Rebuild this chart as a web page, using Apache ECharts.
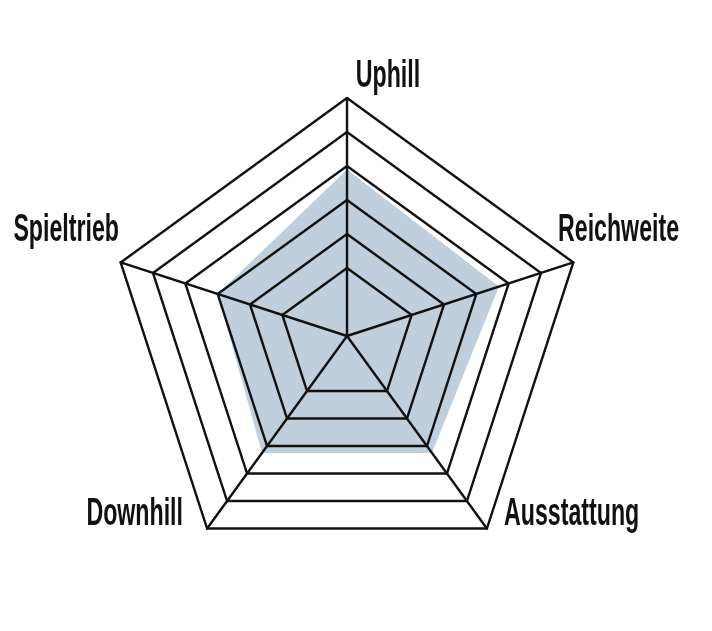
<!DOCTYPE html>
<html>
<head>
<meta charset="utf-8">
<script src="https://cdn.jsdelivr.net/npm/echarts@6/dist/echarts.min.js"></script>
<style>
  html, body { margin: 0; padding: 0; background: #fff; }
  .main { width: 712px; height: 631px; }
</style>
</head>
<body>
<div class="main"></div>
<script>
// ECharts places indicators counter-clockwise starting at the top
var axisNames = ['Uphill', 'Spieltrieb', 'Downhill', 'Ausstattung', 'Reichweite'];
var scores = [4.9, 4.0, 4.25, 4.25, 4.7];
var scaleMax = 7;

var myChart = echarts.init(document.querySelector('.main'));

// the innermost ring is not drawn in the original, colour index 1 is that ring
var ringColors = ['#111', 'rgba(0,0,0,0)', '#111', '#111', '#111', '#111', '#111'];

// squeezed horizontally to get the condensed look of the original lettering
function label(text, x, y, align) {
  return {
    type: 'text',
    x: x,
    y: y,
    scaleX: 0.61,
    style: {
      text: text,
      fill: '#111',
      font: "bold 38px 'Liberation Sans', Arial, sans-serif",
      align: align,
      verticalAlign: 'middle'
    }
  };
}

var option = {
  animation: false,
  radar: {
    z: 5,
    center: [347, 336],
    radius: 238,
    splitNumber: 7,
    shape: 'polygon',
    indicator: axisNames.map(function (n) {
      return { name: n, min: 0, max: scaleMax };
    }),
    axisName: { show: false },
    axisLine: { lineStyle: { color: '#111', width: 2.4 } },
    splitLine: { lineStyle: { color: ringColors, width: 2.4 } },
    splitArea: { show: false }
  },
  graphic: [
    label('Uphill', 388, 77, 'center'),
    label('Reichweite', 558, 231, 'left'),
    label('Spieltrieb', 119, 231, 'right'),
    label('Downhill', 183, 515, 'right'),
    label('Ausstattung', 504, 515, 'left')
  ],
  series: [{
    type: 'radar',
    z: 1,
    symbol: 'none',
    lineStyle: { width: 0 },
    areaStyle: { color: '#bfcfdd', opacity: 1 },
    data: [{ value: scores, name: 'Bewertung' }]
  }]
};
myChart.setOption(option);
</script>
</body>
</html>
